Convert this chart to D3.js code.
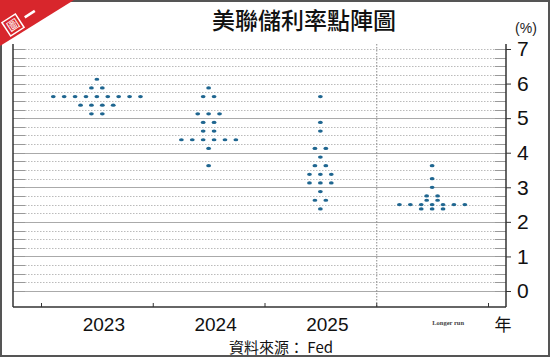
<!DOCTYPE html>
<html>
<head>
<meta charset="utf-8">
<script src="https://cdn.jsdelivr.net/npm/d3@7"></script>
<style>
  body { margin: 0; background: #fff; }
  svg { display: block; font-family: "Liberation Sans", Arial, sans-serif; }
</style>
</head>
<body>
<div id="chart"></div>
<script>
const width = 550;
const height = 357;

// chart values
const categories = ["2023", "2024", "2025", "Longer run"];
const dots2023 = [6.125, 5.875, 5.875, 5.625, 5.625, 5.625, 5.625, 5.625, 5.625, 5.625, 5.625, 5.625,
  5.375, 5.375, 5.375, 5.375, 5.125, 5.125];
const dots2024 = [5.875, 5.625, 5.625, 5.125, 5.125, 5.125, 4.875, 4.875, 4.625, 4.625,
  4.375, 4.375, 4.375, 4.375, 4.375, 4.375, 4.125, 3.625];
const dots2025 = [5.625, 4.875, 4.625, 4.125, 4.125, 3.875, 3.625, 3.625, 3.375, 3.375, 3.375,
  3.125, 3.125, 3.125, 2.875, 2.625, 2.625, 2.375];
const dotsLonger = [3.625, 3.25, 3.0, 2.75, 2.75, 2.625, 2.625, 2.5, 2.5, 2.5, 2.5, 2.5, 2.5, 2.5,
  2.375, 2.375, 2.375];
const yTicks = [0, 1, 2, 3, 4, 5, 6, 7];
const solidLines = [0, 1, 2, 3, 4, 5];

const plotLeft = 13, plotRight = 506, plotTop = 44, plotBottom = 307;

const svg = d3.select("#chart")
  .append("svg")
  .attr("width", width)
  .attr("height", height);

// outer frame
svg.append("rect")
  .attr("x", 1).attr("y", 1)
  .attr("width", width - 2).attr("height", height - 2)
  .attr("fill", "#fff")
  .attr("stroke", "#555")
  .attr("stroke-width", 2);

const xScale = d3.scaleBand()
  .domain(categories)
  .range([41, 488])
  .padding(0);

const yScale = d3.scaleLinear()
  .domain([0, 7])
  .range([291, 49]);

// spacing of dots within a row
const rowScale = d3.scaleLinear().domain([0, 1]).range([0, 10.9]);

// grid lines every quarter point
const gridVals = d3.range(0, 7.01, 0.25);
const grid = svg.append("g");
gridVals.forEach(v => {
  const y = Math.round(yScale(v)) + 0.5;
  const solid = solidLines.includes(v);
  grid.append("line")
    .attr("x1", plotLeft).attr("x2", 25).attr("y1", y).attr("y2", y)
    .attr("stroke", "#999").attr("stroke-width", 1);
  grid.append("line")
    .attr("x1", 25).attr("x2", 495).attr("y1", y).attr("y2", y)
    .attr("stroke", solid ? "#aaa" : "#bbb")
    .attr("stroke-width", 1)
    .attr("stroke-dasharray", solid ? null : "1.5,1.5");
  grid.append("line")
    .attr("x1", 495).attr("x2", plotRight).attr("y1", y).attr("y2", y)
    .attr("stroke", "#999").attr("stroke-width", 1);
});

// dashed divider before longer run
svg.append("line")
  .attr("x1", xScale("Longer run") + 0.5).attr("x2", xScale("Longer run") + 0.5)
  .attr("y1", plotTop).attr("y2", plotBottom)
  .attr("stroke", "#888")
  .attr("stroke-dasharray", "1.5,1.5");

// left axis line
svg.append("line")
  .attr("x1", plotLeft).attr("x2", plotLeft)
  .attr("y1", plotTop).attr("y2", plotBottom)
  .attr("stroke", "#333").attr("stroke-width", 1.5);

// right axis
const yAxis = d3.axisRight(yScale)
  .tickValues(yTicks)
  .tickFormat(d3.format("d"))
  .tickSize(5)
  .tickPadding(6);
const yAxisG = svg.append("g")
  .attr("transform", `translate(${plotRight}, 0)`)
  .call(yAxis);
yAxisG.select(".domain").remove();
yAxisG.selectAll(".tick line").attr("stroke", "#333");
yAxisG.selectAll("text")
  .attr("font-size", 21)
  .attr("fill", "#111");
yAxisG.append("line")
  .attr("x1", 0).attr("x2", 0)
  .attr("y1", plotTop).attr("y2", plotBottom)
  .attr("stroke", "#333").attr("stroke-width", 1.5);

// bottom axis
svg.append("line")
  .attr("x1", plotLeft).attr("x2", plotRight)
  .attr("y1", plotBottom).attr("y2", plotBottom)
  .attr("stroke", "#333").attr("stroke-width", 1.5);
const boundaries = categories.map(c => xScale(c)).concat([xScale.range()[1]]);
svg.append("g").selectAll("line")
  .data(boundaries)
  .join("line")
  .attr("x1", d => d + 0.5).attr("x2", d => d + 0.5)
  .attr("y1", plotBottom).attr("y2", plotBottom - 4)
  .attr("stroke", "#333");

// x labels
const xLabels = svg.append("g");
categories.slice(0, 3).forEach(c => {
  xLabels.append("text")
    .attr("x", xScale(c) + xScale.bandwidth() / 2 + 7)
    .attr("y", 331)
    .attr("text-anchor", "middle")
    .attr("font-size", 19)
    .attr("fill", "#111")
    .text(c);
});
xLabels.append("text")
  .attr("x", xScale("Longer run") + xScale.bandwidth() / 2 + 16)
  .attr("y", 325)
  .attr("text-anchor", "middle")
  .attr("font-family", "'Liberation Serif', serif")
  .attr("font-weight", "bold")
  .attr("font-size", 6.5)
  .attr("fill", "#444")
  .text("Longer run");
xLabels.append("text")
  .attr("x", 503).attr("y", 331)
  .attr("text-anchor", "middle")
  .attr("font-family", "'Noto Sans CJK TC', sans-serif")
  .attr("font-size", 17)
  .attr("fill", "#111")
  .text("年");

// dots
const series = [dots2023, dots2024, dots2025, dotsLonger];
const dotsG = svg.append("g");
series.forEach((vals, i) => {
  const cat = categories[i];
  const cx = xScale(cat) + xScale.bandwidth() / 2;
  const rows = d3.groups(vals, d => d);
  rows.forEach(([rate, list]) => {
    list.forEach((d, j) => {
      dotsG.append("ellipse")
        .attr("cx", cx + rowScale(j - (list.length - 1) / 2))
        .attr("cy", yScale(rate))
        .attr("rx", 2.4)
        .attr("ry", 1.6)
        .attr("fill", "#1f6690");
    });
  });
});

// title
svg.append("text")
  .attr("x", 304).attr("y", 29)
  .attr("text-anchor", "middle")
  .attr("font-family", "'Noto Sans CJK TC', sans-serif")
  .attr("font-weight", 500)
  .attr("font-size", 23)
  .attr("fill", "#111")
  .text("美聯儲利率點陣圖");

svg.append("text")
  .attr("x", 526).attr("y", 33)
  .attr("text-anchor", "middle")
  .attr("font-size", 14)
  .attr("fill", "#222")
  .text("(%)");

// source
svg.append("text")
  .attr("x", 281).attr("y", 353)
  .attr("text-anchor", "middle")
  .attr("font-family", "'Noto Sans CJK TC', sans-serif")
  .attr("font-size", 15)
  .attr("fill", "#111")
  .text("資料來源： Fed");

// corner badge
svg.append("path")
  .attr("d", "M0,0 L74,0 L0,46 Z")
  .attr("fill", "#d8262c");
const badge = svg.append("g")
  .attr("transform", "translate(13,25) rotate(-33)");
badge.append("rect")
  .attr("x", -8).attr("y", -8)
  .attr("width", 16).attr("height", 16)
  .attr("fill", "none")
  .attr("stroke", "#fff")
  .attr("stroke-width", 1.5);
badge.append("text")
  .attr("x", 0).attr("y", 4.5)
  .attr("text-anchor", "middle")
  .attr("font-family", "'Noto Sans CJK TC', sans-serif")
  .attr("font-size", 12)
  .attr("fill", "#fff")
  .text("圖");
badge.append("line")
  .attr("x1", 14).attr("x2", 26).attr("y1", 0).attr("y2", 0)
  .attr("stroke", "#fff").attr("stroke-width", 2.5);
</script>
</body>
</html>
